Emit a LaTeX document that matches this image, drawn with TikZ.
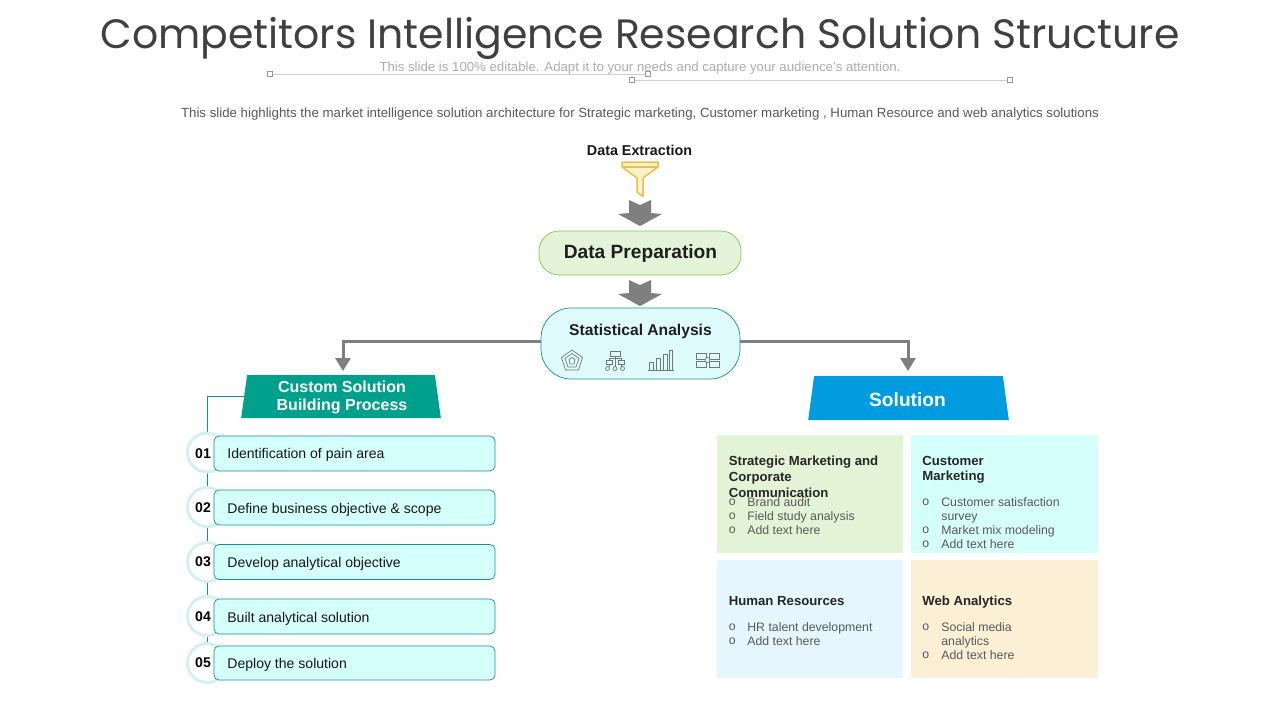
\documentclass[tikz,border=0pt]{standalone}
\usepackage{fontspec}
\setmainfont{Liberation Sans}
\newfontfamily\titlefont{Poppins}
\usetikzlibrary{arrows.meta,positioning,backgrounds,shapes.geometric}
\definecolor{tealline}{HTML}{17908A}
\definecolor{greyarm}{HTML}{7F7F7F}
\definecolor{rowfill}{HTML}{D5FFFB}
\definecolor{ringblue}{HTML}{D3F1F3}
\definecolor{prepfill}{HTML}{E4F4D8}
\definecolor{prepline}{HTML}{8CC152}
\definecolor{statfill}{HTML}{DFFBFB}
\definecolor{custfill}{HTML}{00A08C}
\definecolor{solfill}{HTML}{009CDF}
\definecolor{boxgreen}{HTML}{E3F3D6}
\definecolor{boxcyan}{HTML}{D5FFFB}
\definecolor{boxblue}{HTML}{E5F6FF}
\definecolor{boxcream}{HTML}{FBF0D6}
\definecolor{listgrey}{HTML}{595959}
\definecolor{iconline}{HTML}{6F7B7B}
\definecolor{funnelline}{HTML}{E8C04A}
\definecolor{funnelfill}{HTML}{FDF1C7}
\tikzset{
	headbox/.style={trapezium,trapezium angle=81,trapezium stretches=true,inner sep=0pt},
	rowbox/.style={draw=tealline,fill=rowfill,rounded corners=0.1cm,minimum width=5.62cm,minimum height=0.7cm,inner sep=0pt},
	rowtext/.style={anchor=west,inner sep=0pt,font=\fontsize{8}{9.7}\selectfont,text=black!90},
	ring/.style={circle,draw=ringblue,line width=0.06cm,fill=white,minimum size=0.78cm,inner sep=0pt},
	numtext/.style={inner sep=0pt,font=\bfseries\fontsize{8}{9}\selectfont},
	quadbox/.style={minimum width=3.73cm,minimum height=2.37cm,inner sep=0pt},
	quadtitle/.style={anchor=north west,inner sep=0pt,align=left,font=\bfseries\fontsize{7.5}{9.07}\selectfont,text=black!85},
	quadlist/.style={anchor=north west,inner sep=0pt,align=left,font=\fontsize{7}{7.94}\selectfont,text=listgrey},
	armline/.style={draw=greyarm,line width=0.06cm,-{Triangle[length=0.26cm,width=0.3cm]}},
	chunkarrow/.style={fill=greyarm,draw=none},
	handleline/.style={draw=black!18,line width=0.02cm},
	handle/.style={draw=black!40,fill=white,line width=0.012cm,minimum size=0.09cm,inner sep=0pt},
	icon/.style={draw=iconline,line width=0.014cm}
}
\newcommand{\firstdot}{\vphantom{A}o}
\newcommand{\headspace}{\phantom{\rule{3cm}{0.6cm}}}
\begin{document}
\begin{tikzpicture}[x=0.02cm,y=-0.02cm]
	\useasboundingbox (0,0) rectangle (1280,720);
	\node[font=\titlefont\fontsize{23.33}{30}\selectfont,text=black!75,inner sep=0pt] (title) at (640,38) {Competitors Intelligence Research Solution Structure};
	\node[handle] (h1) at (270,74) {};
	\node[handle] (h2) at (648,74) {};
	\node[handle] (h3) at (632,80) {};
	\node[handle] (h4) at (1010,80) {};
	\draw[handleline] (h1) -- (h2);
	\draw[handleline] (h3) -- (h4);
	\node[font=\fontsize{7.52}{9}\selectfont,text=black!32,inner sep=0pt] (note) at (640,68) {This slide is 100\% editable. Adapt it to your needs and capture your audience's attention.};
	\node[font=\fontsize{7.55}{9}\selectfont,text=listgrey,inner sep=0pt] (sub) at (640,114) {This slide highlights the market intelligence solution architecture for Strategic marketing, Customer marketing , Human Resource and web analytics solutions};

	\node[font=\bfseries\fontsize{8.15}{9}\selectfont,text=black!90,inner sep=0pt] (extract) at (639.5,150.5) {Data Extraction};
	\draw[draw=funnelline,fill=funnelfill,line width=0.03cm,line join=round] (622,162) -- (658,162) -- (658,167) -- (643,178) -- (643,196.5) -- (637,192) -- (637,178) -- (622,167) -- cycle;
	\draw[draw=funnelline,line width=0.03cm] (622,167) -- (658,167);
	\fill[chunkarrow] (629,200) -- (640,205) -- (651,200) -- (651,213) -- (662,214) -- (640,226) -- (618,214) -- (629,213) -- cycle;
	\fill[chunkarrow] (629,280) -- (640,285) -- (651,280) -- (651,293) -- (662,294) -- (640,306) -- (618,294) -- (629,293) -- cycle;

	\node[draw=prepline,fill=prepfill,rounded corners=0.4cm,minimum width=4.04cm,minimum height=0.88cm,inner sep=0pt] (prep) at (640,253) {};
	\node[font=\bfseries\fontsize{10.9}{12}\selectfont,text=black!88,inner sep=0pt] (preptext) at (640.5,253.5) {Data Preparation};
	\node[draw=tealline,fill=statfill,rounded corners=0.6cm,minimum width=3.98cm,minimum height=1.42cm,inner sep=0pt] (stat) at (640.5,343.5) {};
	\node[font=\bfseries\fontsize{8.9}{10}\selectfont,text=black!88,inner sep=0pt] (stattext) at (640.5,331) {Statistical Analysis};

	\draw[icon] (572,350) -- (582.5,357.5) -- (578.5,370) -- (565.5,370) -- (561.5,357.5) -- cycle;
	\draw[icon] (572,353.5) -- (579,358.5) -- (576,367) -- (568,367) -- (565,358.5) -- cycle;
	\draw[icon] (572,357.5) -- (575,359.5) -- (574,364) -- (570,364) -- (569,359.5) -- cycle;

	\draw[icon] (610.5,351) rectangle (620,356);
	\draw[icon] (606,360) rectangle (612,364);
	\draw[icon] (618,360) rectangle (624,364);
	\draw[icon] (615,356) -- (615,358) -- (609,358) -- (609,360);
	\draw[icon] (615,358) -- (621,358) -- (621,360);
	\draw[icon] (609,364) -- (609,366.5);
	\draw[icon] (615,358) -- (615,366.5);
	\draw[icon] (621,364) -- (621,366.5);
	\draw[icon] (607.5,368.5) circle (2);
	\draw[icon] (615,368.5) circle (2);
	\draw[icon] (622.5,368.5) circle (2);

	\draw[icon] (647.5,370) -- (673.5,370);
	\draw[icon] (649.5,370) -- (649.5,362) -- (653.5,362) -- (653.5,370);
	\draw[icon] (656,370) -- (656,358) -- (660.5,358) -- (660.5,370);
	\draw[icon] (663,370) -- (663,354) -- (667,354) -- (667,370);
	\draw[icon] (669,370) -- (669,350.5) -- (672.5,350.5) -- (672.5,370);

	\draw[icon] (696,353) rectangle (706,359);
	\draw[icon] (709,353) rectangle (719,359);
	\draw[icon] (696,361) rectangle (706,367);
	\draw[icon] (709,361) rectangle (719,367);
	\draw[icon,fill=statfill] (707.5,360) circle (2.5);

	\node[headbox,fill=custfill,minimum width=4cm,minimum height=0.86cm] (custom) at (341,396.5) {\headspace};
	\node[inner sep=0pt,text=white,font=\bfseries\fontsize{9.1}{10.6}\selectfont,align=center] (customtext) at (342,397.5) {Custom Solution\\Building Process};
	\node[headbox,fill=solfill,minimum width=4.02cm,minimum height=0.88cm] (solution) at (908.5,398) {\headspace};
	\node[inner sep=0pt,text=white,font=\bfseries\fontsize{10.9}{12}\selectfont] (solutiontext) at (907.5,399.5) {Solution};
	\coordinate (armL) at (343,371);
	\coordinate (armR) at (908,371);
	\draw[armline] ([yshift=0.05cm]stat.west) -| (armL);
	\draw[armline] ([yshift=0.05cm]stat.east) -| (armR);

	\node[ring] (c1) at (207,452.5) {};
	\node[ring] (c2) at (207,507) {};
	\node[ring] (c3) at (207,562) {};
	\node[ring] (c4) at (207,616) {};
	\node[ring] (c5) at (207,663) {};
	\begin{scope}[on background layer]
		\draw[tealline,line width=0.02cm] (custom.west) -| (c5.center);
	\end{scope}
	\node[numtext] (n1) at (203,453.5) {01};
	\node[numtext] (n2) at (203,507.5) {02};
	\node[numtext] (n3) at (203,561.5) {03};
	\node[numtext] (n4) at (203,616.5) {04};
	\node[numtext] (n5) at (203,662.5) {05};
	\node[rowbox] (r1) at (354.5,453.5) {};
	\node[rowbox] (r2) at (354.5,507.5) {};
	\node[rowbox] (r3) at (354.5,562) {};
	\node[rowbox] (r4) at (354.5,616.5) {};
	\node[rowbox,minimum height=0.68cm] (r5) at (354.5,663) {};
	\node[rowtext] (t1) at (227,454.5) {Identification of pain area};
	\node[rowtext] (t2) at (227,509.5) {Define business objective \& scope};
	\node[rowtext] (t3) at (227,563.5) {Develop analytical objective};
	\node[rowtext] (t4) at (227,618.5) {Built analytical solution};
	\node[rowtext] (t5) at (227,664.5) {Deploy the solution};

	\node[quadbox,fill=boxgreen] (q1) at (810,494) {};
	\node[quadbox,fill=boxcyan,minimum width=3.74cm] (q2) at (1004.5,494) {};
	\node[quadbox,fill=boxblue] (q3) at (810,619) {};
	\node[quadbox,fill=boxcream,minimum width=3.74cm] (q4) at (1004.5,619) {};

	\node[quadtitle] (q1title) at (728.5,455.5) {Strategic Marketing and\\Corporate\\Communication};
	\node[quadlist] (q1dots) at (728.5,497) {\firstdot\\o\\o};
	\node[quadlist] (q1list) at (747,497) {Brand audit\\Field study analysis\\Add text here};
	\node[quadtitle] (q2title) at (922,455.5) {Customer\\Marketing};
	\node[quadlist] (q2dots) at (922,497) {\firstdot\\~\\o\\o};
	\node[quadlist] (q2list) at (941,497) {Customer satisfaction\\survey\\Market mix modeling\\Add text here};
	\node[quadtitle] (q3title) at (728.5,596) {Human Resources};
	\node[quadlist] (q3dots) at (728.5,622) {\firstdot\\o};
	\node[quadlist] (q3list) at (747,622) {HR talent development\\Add text here};
	\node[quadtitle] (q4title) at (922,595.5) {Web Analytics};
	\node[quadlist] (q4dots) at (922,622) {\firstdot\\~\\o};
	\node[quadlist] (q4list) at (941,622) {Social media\\analytics\\Add text here};
\end{tikzpicture}
\end{document}
